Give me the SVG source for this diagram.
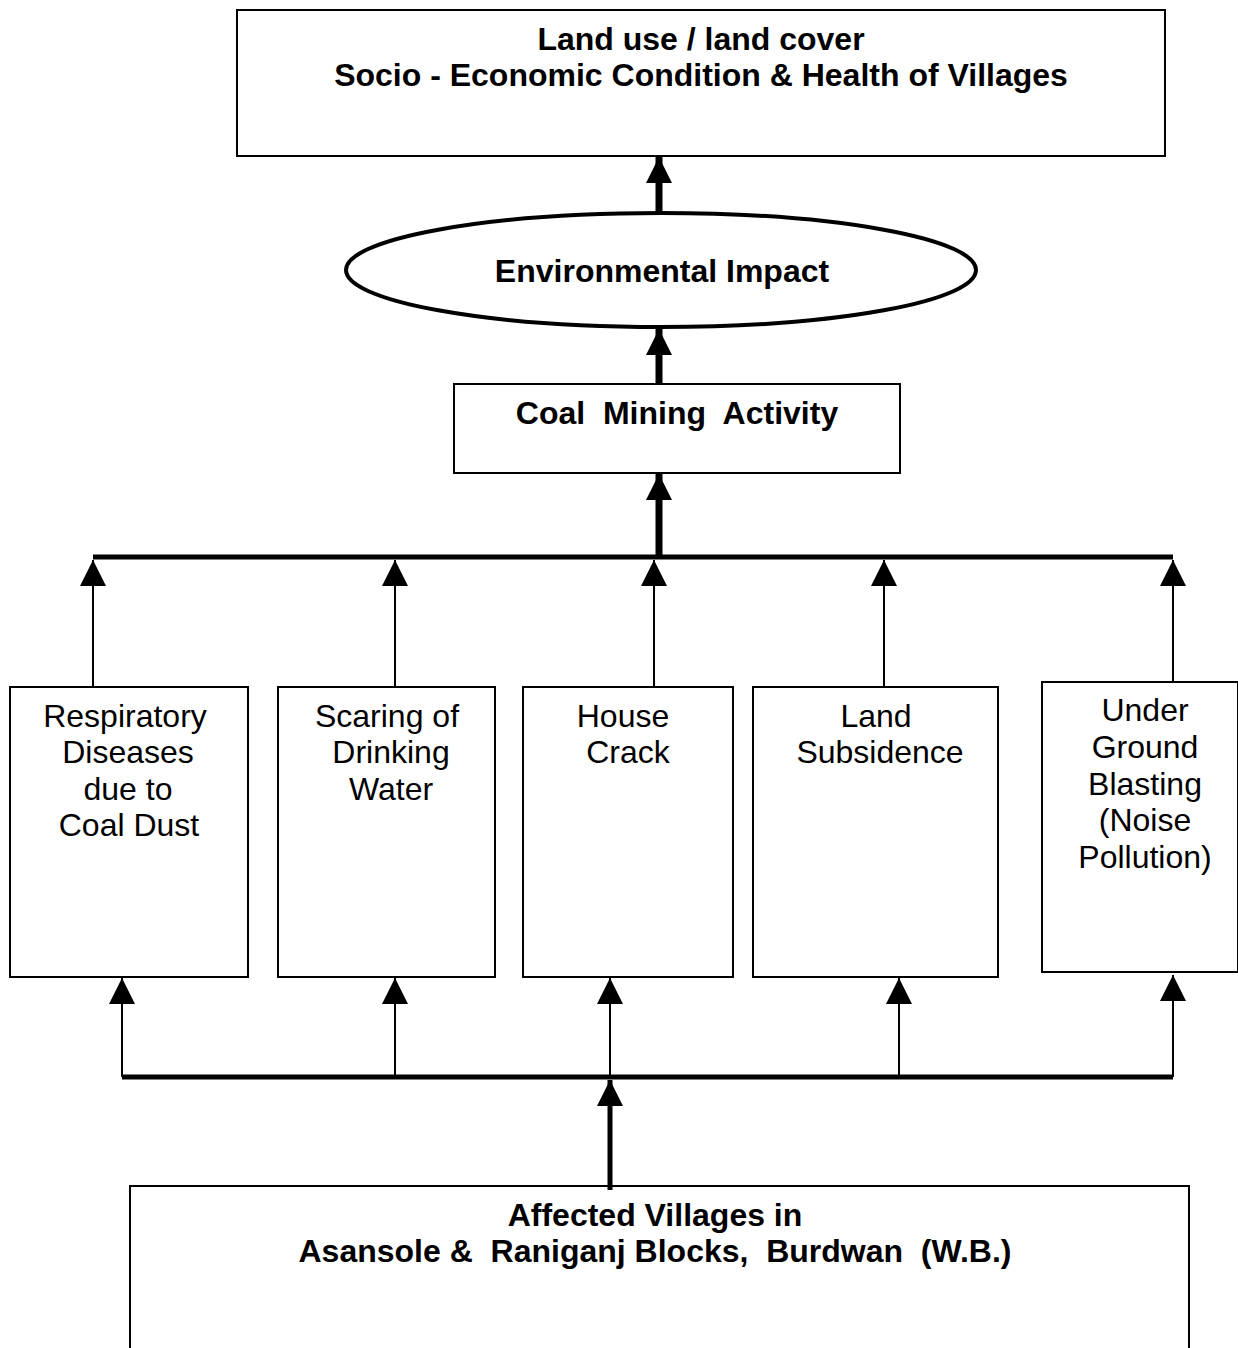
<svg xmlns="http://www.w3.org/2000/svg" width="1238" height="1348" viewBox="0 0 1238 1348">
<style>
.box{fill:#fff;stroke:#000;stroke-width:2}
.b{font-family:"Liberation Sans",Arial,sans-serif;font-weight:bold;font-size:32px;text-anchor:middle;fill:#000}
.n{font-family:"Liberation Sans",Arial,sans-serif;font-size:32px;text-anchor:middle;fill:#000}
.thin{stroke:#000;stroke-width:2;fill:none}
.thick{stroke:#000;stroke-width:7;fill:none}
.thick2{stroke:#000;stroke-width:5;fill:none}
.bus{stroke:#000;stroke-width:5;fill:none}
</style>
<defs>
<marker id="ah" viewBox="0 0 10 10" refX="10" refY="5" markerWidth="26" markerHeight="26" markerUnits="userSpaceOnUse" orient="auto"><path d="M0,0 L10,5 L0,10 z" fill="#000"/></marker>
</defs>
<rect width="1238" height="1348" fill="#fff"/>
<g id="n-top"><rect class="box" x="237" y="10" width="928" height="146"/>
<text class="b" x="701" y="50">Land use / land cover</text>
<text class="b" x="701" y="86">Socio - Economic Condition &amp; Health of Villages</text></g>
<g id="n-env"><ellipse cx="661" cy="270" rx="315" ry="57" fill="#fff" stroke="#000" stroke-width="4"/>
<text class="b" x="662" y="282">Environmental Impact</text></g>
<g id="n-coal"><rect class="box" x="454" y="384" width="446" height="89"/>
<text class="b" x="677" y="424" xml:space="preserve">Coal  Mining  Activity</text></g>
<g id="n-resp"><rect class="box" x="10" y="687" width="238" height="290"/>
<text class="n" x="125" y="727">Respiratory</text><text class="n" x="128" y="763">Diseases</text><text class="n" x="128" y="800">due to</text><text class="n" x="129" y="836">Coal Dust</text></g>
<g id="n-water"><rect class="box" x="278" y="687" width="217" height="290"/>
<text class="n" x="387" y="727">Scaring of</text><text class="n" x="391" y="763">Drinking</text><text class="n" x="391" y="800">Water</text></g>
<g id="n-house"><rect class="box" x="523" y="687" width="210" height="290"/>
<text class="n" x="623" y="727">House</text><text class="n" x="628" y="763">Crack</text></g>
<g id="n-land"><rect class="box" x="753" y="687" width="245" height="290"/>
<text class="n" x="876" y="727">Land</text><text class="n" x="880" y="763">Subsidence</text></g>
<g id="n-blast"><rect class="box" x="1042" y="682" width="196" height="290"/>
<text class="n" x="1145" y="721">Under</text><text class="n" x="1145" y="758">Ground</text><text class="n" x="1145" y="795">Blasting</text><text class="n" x="1145" y="831">(Noise</text><text class="n" x="1145" y="868">Pollution)</text></g>
<g id="n-villages"><path class="box" d="M130,1348 V1186 H1189 V1348"/>
<text class="b" x="655" y="1226">Affected Villages in</text>
<text class="b" x="655" y="1262" xml:space="preserve">Asansole &amp;  Raniganj Blocks,  Burdwan  (W.B.)</text></g>
<g id="connectors">
<line class="thick" x1="659" y1="213" x2="659" y2="157" marker-end="url(#ah)"/>
<line class="thick" x1="659" y1="384" x2="659" y2="329" marker-end="url(#ah)"/>
<line class="bus" x1="93" y1="557" x2="1173" y2="557"/>
<line class="thick" x1="659" y1="557" x2="659" y2="474" marker-end="url(#ah)"/>
<line class="thin" x1="93" y1="687" x2="93" y2="560" marker-end="url(#ah)"/>
<line class="thin" x1="395" y1="687" x2="395" y2="560" marker-end="url(#ah)"/>
<line class="thin" x1="654" y1="687" x2="654" y2="560" marker-end="url(#ah)"/>
<line class="thin" x1="884" y1="687" x2="884" y2="560" marker-end="url(#ah)"/>
<line class="thin" x1="1173" y1="682" x2="1173" y2="560" marker-end="url(#ah)"/>
<line class="bus" x1="122" y1="1077" x2="1173" y2="1077"/>
<line class="thin" x1="122" y1="1077" x2="122" y2="978" marker-end="url(#ah)"/>
<line class="thin" x1="395" y1="1077" x2="395" y2="978" marker-end="url(#ah)"/>
<line class="thin" x1="610" y1="1077" x2="610" y2="978" marker-end="url(#ah)"/>
<line class="thin" x1="899" y1="1077" x2="899" y2="978" marker-end="url(#ah)"/>
<line class="thin" x1="1173" y1="1077" x2="1173" y2="975" marker-end="url(#ah)"/>
<line class="thick2" x1="610" y1="1190" x2="610" y2="1080" marker-end="url(#ah)"/>
</g>
</svg>
